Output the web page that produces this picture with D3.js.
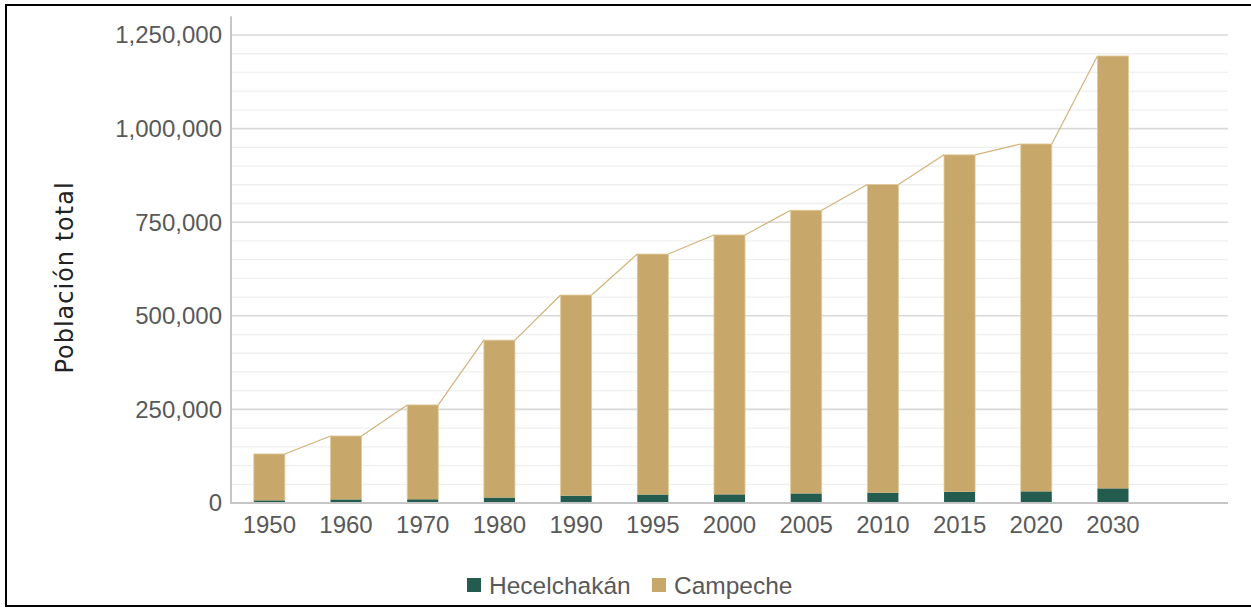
<!DOCTYPE html>
<html>
<head>
<meta charset="utf-8">
<script src="https://cdn.jsdelivr.net/npm/d3@7"></script>
<style>
  html, body { margin: 0; padding: 0; background: #fff; }
  svg { display: block; }
</style>
</head>
<body>
<svg id="chart" width="1251" height="609"></svg>
<script>
// Población total por año: Hecelchakán (base) y Campeche (apilado encima)
const years = ["1950", "1960", "1970", "1980", "1990", "1995", "2000", "2005", "2010", "2015", "2020", "2030"];
const hecelchakan = [6500, 9000, 9500, 14000, 19000, 22000, 22500, 25000, 27000, 29500, 30500, 38500];
const campeche = [124500, 170000, 252500, 421000, 536500, 643000, 693500, 757000, 824000, 900500, 928500, 1155500];
const yTicks = [0, 250000, 500000, 750000, 1000000, 1250000];
const seriesNames = ["Hecelchakán", "Campeche"];
const seriesColors = ["#235B4E", "#C8A86A"];

const svg = d3.select("#chart");
const W = 1251, H = 609;
const plotLeft = 231, plotRight = 1228, plotTop = 16.3, plotBottom = 503;

// outer frame
svg.append("rect")
  .attr("x", 6).attr("y", 5).attr("width", W + 10).attr("height", 601)
  .attr("fill", "none").attr("stroke", "#000").attr("stroke-width", 2);

const step = (plotRight - plotLeft) / (years.length + 1);
const x = d3.scaleBand().domain(years).range([plotLeft, plotRight - step]).paddingInner(0.595).paddingOuter(0.2975);
const y = d3.scaleLinear().domain([0, 1300000]).range([plotBottom, plotTop]);

// grid lines: minor every 50,000, major every 250,000
const minor = d3.range(50000, 1250001, 50000).filter(v => v % 250000 !== 0);
svg.append("g").selectAll("line").data(minor).join("line")
  .attr("x1", plotLeft).attr("x2", plotRight)
  .attr("y1", d => y(d)).attr("y2", d => y(d))
  .attr("stroke", "#efefef").attr("stroke-width", 1.3);
svg.append("g").selectAll("line").data(yTicks.filter(v => v > 0)).join("line")
  .attr("x1", plotLeft).attr("x2", plotRight)
  .attr("y1", d => y(d)).attr("y2", d => y(d))
  .attr("stroke", "#d9d9d9").attr("stroke-width", 1.6);

// stacked bars
const stackData = years.map((yr, i) => ({ year: yr, h: hecelchakan[i], c: campeche[i] }));
const stacked = d3.stack().keys(["h", "c"])(stackData);

svg.append("g").selectAll("rect").data(stacked[1]).join("rect")
  .attr("x", d => x(d.data.year))
  .attr("width", x.bandwidth())
  .attr("y", d => y(d[1]))
  .attr("height", d => y(d[0]) - y(d[1]))
  .attr("fill", seriesColors[1])
  .attr("stroke", "#e0cb9c").attr("stroke-width", 0.8);

svg.append("g").selectAll("rect").data(stacked[0]).join("rect")
  .attr("x", d => x(d.data.year))
  .attr("width", x.bandwidth())
  .attr("y", d => y(d[1]))
  .attr("height", d => y(d[0]) - y(d[1]))
  .attr("fill", seriesColors[0]);

// series lines joining the tops of consecutive stacks
const stackTops = stacked[1];
const segs = d3.range(stackTops.length - 1).map(i => [
  [x(stackTops[i].data.year) + x.bandwidth(), y(stackTops[i][1])],
  [x(stackTops[i + 1].data.year), y(stackTops[i + 1][1])]
]);
svg.append("g").selectAll("path").data(segs).join("path")
  .attr("d", d => d3.line()(d))
  .attr("fill", "none").attr("stroke", "#D1B27C").attr("stroke-width", 1.2);

// axis lines
svg.append("line").attr("x1", plotLeft).attr("x2", plotLeft).attr("y1", plotTop).attr("y2", plotBottom)
  .attr("stroke", "#c6c6c6").attr("stroke-width", 2);
svg.append("line").attr("x1", plotLeft - 1).attr("x2", plotRight).attr("y1", plotBottom).attr("y2", plotBottom)
  .attr("stroke", "#c6c6c6").attr("stroke-width", 2);

const fmt = d3.format(",");
const tickFont = "'Liberation Sans', Arial, sans-serif";

// y tick labels
svg.append("g").selectAll("text").data(yTicks).join("text")
  .attr("x", 222).attr("y", d => y(d))
  .attr("dy", "0.35em")
  .attr("text-anchor", "end")
  .attr("font-family", tickFont).attr("font-size", 24)
  .attr("fill", "#595959")
  .text(d => fmt(d));

// x tick labels
svg.append("g").selectAll("text").data(years).join("text")
  .attr("x", d => x(d) + x.bandwidth() / 2).attr("y", 533)
  .attr("text-anchor", "middle")
  .attr("font-family", tickFont).attr("font-size", 24)
  .attr("fill", "#595959")
  .text(d => d);

// y axis title
svg.append("text")
  .attr("transform", "translate(73,277.5) rotate(-90)")
  .attr("text-anchor", "middle")
  .attr("font-family", "'DejaVu Sans', sans-serif").attr("font-size", 24)
  .attr("letter-spacing", 1)
  .attr("fill", "#222")
  .text("Población total");

// legend
const legend = svg.append("g");
const legendX = [467, 652];
seriesNames.forEach((name, i) => {
  legend.append("rect")
    .attr("x", legendX[i]).attr("y", 578).attr("width", 14).attr("height", 14)
    .attr("fill", seriesColors[i]);
  legend.append("text")
    .attr("x", legendX[i] + 22).attr("y", 585)
    .attr("dy", "0.35em")
    .attr("font-family", tickFont).attr("font-size", 24.5)
    .attr("fill", "#595959")
    .text(name);
});
</script>
</body>
</html>
